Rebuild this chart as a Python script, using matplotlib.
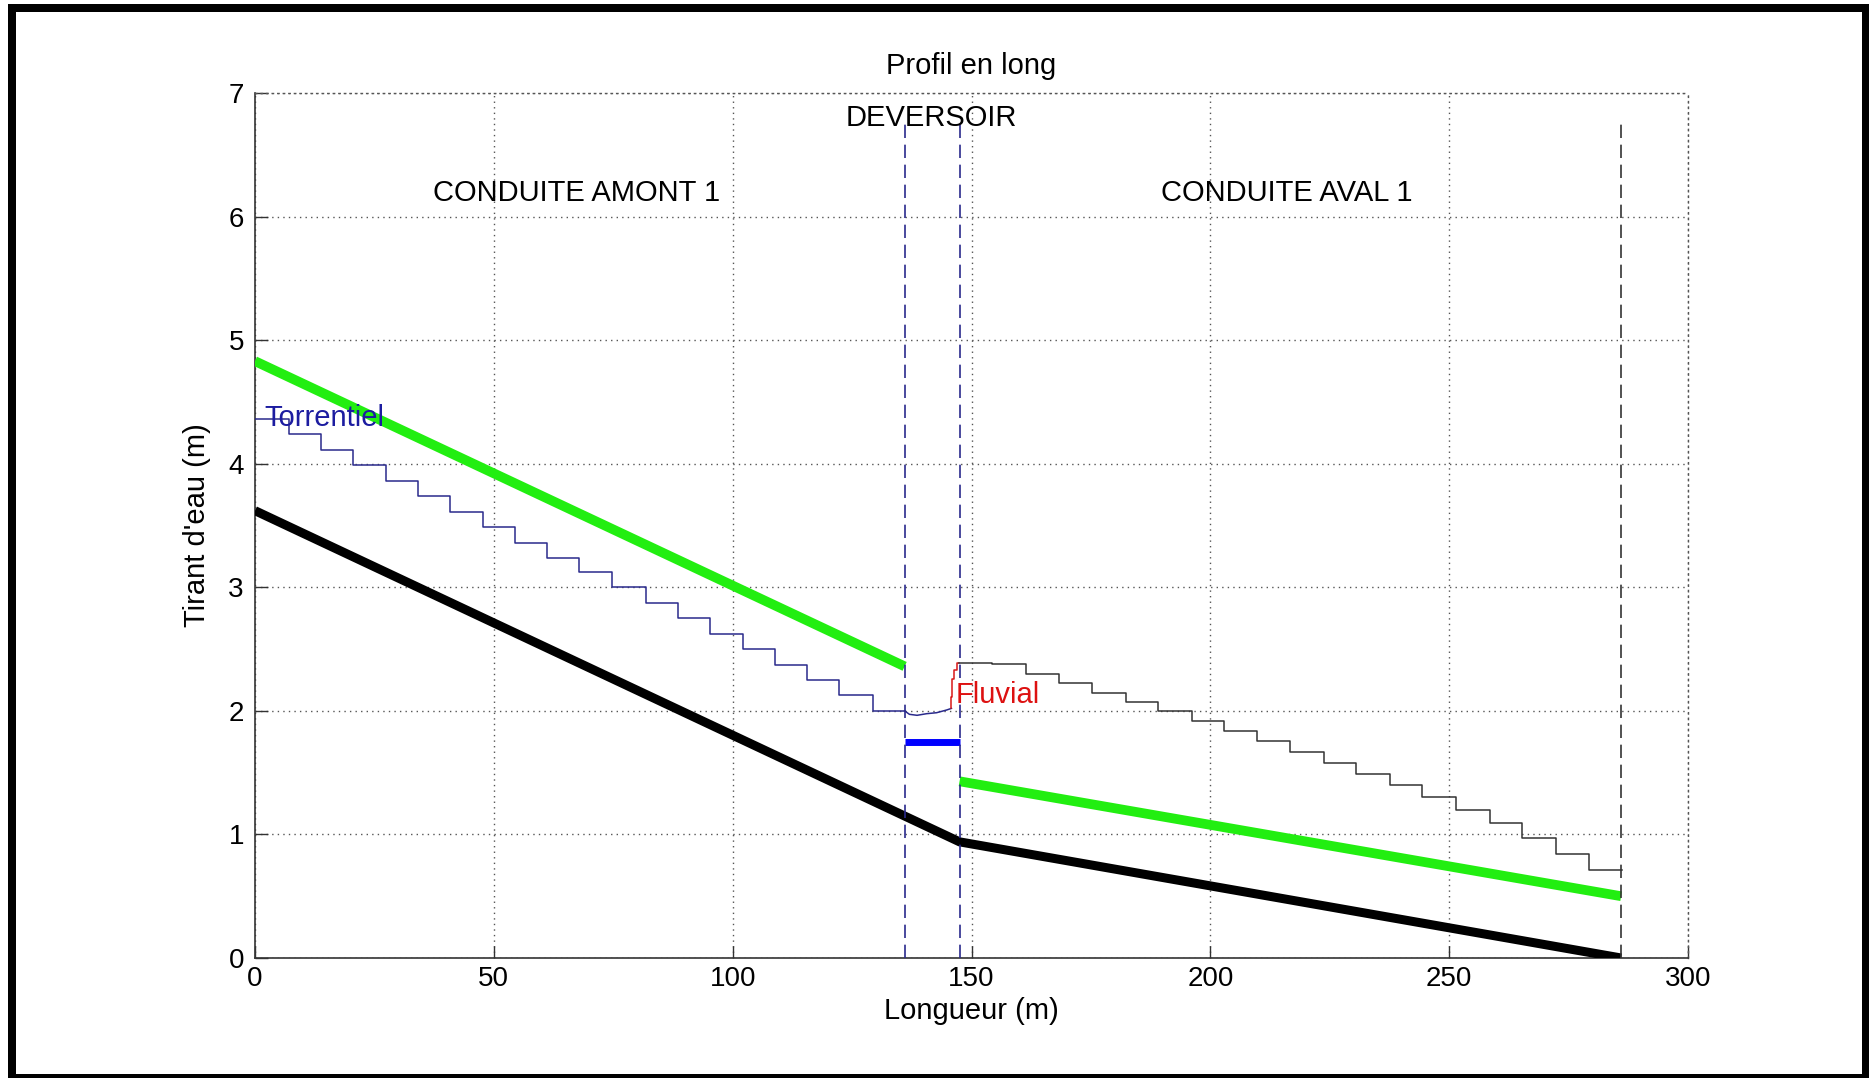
import numpy as np
import matplotlib
matplotlib.use("Agg")
import matplotlib.pyplot as plt
from matplotlib.patches import Rectangle

plt.rcParams['font.family'] = ['Liberation Sans', 'DejaVu Sans']

# Fil d'eau (radier) des deux conduites
radier_x = [0.0, 147.5, 286.0]
radier_y = [3.62, 0.94, 0.0]

# Ligne de charge, conduite amont puis conduite aval
charge_amont_x = [0.0, 136.0]
charge_amont_y = [4.83, 2.36]
charge_aval_x = [147.5, 286.0]
charge_aval_y = [1.43, 0.50]

# Ligne d'eau torrentielle dans la conduite amont (paliers)
torr_bords = [0.0, 7.1, 13.8, 20.6, 27.4, 34.1, 40.9, 47.7, 54.5, 61.2, 67.9,
              74.7, 81.8, 88.5, 95.3, 102.1, 108.9, 115.6, 122.3, 129.3, 136.0]
torr_niveaux = [4.36, 4.24, 4.11, 3.99, 3.86, 3.74, 3.61, 3.49, 3.36, 3.24,
                3.12, 3.00, 2.87, 2.75, 2.62, 2.50, 2.37, 2.25, 2.13, 2.00]

# Ligne d'eau dans le déversoir
dev_x = [136.0, 137.0, 138.6, 140.6, 142.7, 144.8, 145.8]
dev_y = [2.00, 1.972, 1.964, 1.977, 1.985, 2.007, 2.02]

# Ressaut hydraulique en sortie de déversoir
ressaut_x = [145.8, 146.0, 146.4, 147.0, 147.45]
ressaut_y = [2.02, 2.11, 2.26, 2.33, 2.385]

# Ligne d'eau fluviale dans la conduite aval (paliers)
fluv_bords = [147.45, 154.2, 161.4, 168.4, 175.2, 182.3, 189.1, 196.1, 202.8,
              209.8, 216.7, 223.8, 230.5, 237.6, 244.4, 251.4, 258.5, 265.3,
              272.3, 279.2, 286.2]
fluv_niveaux = [2.385, 2.377, 2.298, 2.223, 2.147, 2.069, 1.996, 1.918, 1.837,
                1.754, 1.665, 1.580, 1.491, 1.400, 1.303, 1.198, 1.095, 0.968,
                0.842, 0.712]

# Crête du seuil déversant
seuil_x = [136.0, 147.5]
seuil_y = [1.75, 1.75]

# Limites des tronçons
limites_deversoir = [136.0, 147.5]
limite_fin = 286.0
hauteur_limites = 6.8

x_ticks = [0, 50, 100, 150, 200, 250, 300]
y_ticks = [0, 1, 2, 3, 4, 5, 6, 7]


def paliers(bords, niveaux):
    """Construit une ligne en escalier à partir des bords et des niveaux."""
    xs = np.repeat(np.asarray(bords, dtype=float), 2)[1:-1]
    ys = np.repeat(np.asarray(niveaux, dtype=float), 2)
    return xs, ys


W, H = 1869, 1078
fig = plt.figure(figsize=(W / 100, H / 100), dpi=100, facecolor='white')


# Cadre noir autour de la figure (coordonnées en pixels)
def bande(x0, y0, x1, y1):
    fig.add_artist(Rectangle((x0 / W, 1 - y1 / H), (x1 - x0) / W, (y1 - y0) / H,
                             transform=fig.transFigure, facecolor='black',
                             edgecolor='none', zorder=10))


bande(8, 4, 16, 1078)
bande(8, 4, 1869, 12)
bande(1862, 4, 1869, 1078)
bande(8, 1074, 1869, 1078)

ax = fig.add_axes([255 / W, 1 - 958 / H, (1688 - 255) / W, (958 - 93) / H])
ax.set_xlim(0, 300)
ax.set_ylim(0, 7)

# Quadrillage pointillé
grid_style = dict(linestyle=(0, (1, 3)), linewidth=1.0, color='#555555')
ax.grid(True, **grid_style)
ax.set_axisbelow(True)
for side in ('top', 'right'):
    ax.spines[side].set_linestyle((0, (1, 3)))
    ax.spines[side].set_linewidth(1.0)
    ax.spines[side].set_color('#555555')
for side in ('left', 'bottom'):
    ax.spines[side].set_linewidth(1.2)
    ax.spines[side].set_color('#333333')

ax.set_xticks(x_ticks)
ax.set_yticks(y_ticks)
ax.tick_params(direction='in', length=9, width=1.0, color='#333333',
               labelsize=20, top=False, right=False)
ax.tick_params(axis='x', pad=6)
ax.tick_params(axis='y', pad=8)

# Ligne de charge
ax.plot(charge_amont_x, charge_amont_y, color='#22ee11', lw=7,
        solid_capstyle='butt', zorder=3)
ax.plot(charge_aval_x, charge_aval_y, color='#22ee11', lw=7,
        solid_capstyle='butt', zorder=3)

# Radier
ax.plot(radier_x, radier_y, color='black', lw=6.5, solid_capstyle='butt',
        solid_joinstyle='miter', zorder=3)

# Lignes d'eau
tx, ty = paliers(torr_bords, torr_niveaux)
ax.plot(tx, ty, color='#2a2a8c', lw=1.1, zorder=4)
ax.plot(dev_x, dev_y, color='#2a2a8c', lw=1.1, zorder=4)
ax.plot(ressaut_x, ressaut_y, color='#d81818', lw=1.1,
        drawstyle='steps-pre', zorder=4)
fx, fy = paliers(fluv_bords, fluv_niveaux)
ax.plot(fx, fy, color='#333333', lw=1.1, zorder=4)

# Seuil
ax.plot(seuil_x, seuil_y, color='#0000ff', lw=5, solid_capstyle='butt',
        zorder=4)

# Limites des tronçons
for xl in limites_deversoir:
    ax.plot([xl, xl], [0, hauteur_limites], color='#2a2a8c', lw=1.2,
            linestyle=(0, (8, 4)), zorder=5)
ax.plot([limite_fin, limite_fin], [0, hauteur_limites], color='#333333',
        lw=1.2, linestyle=(0, (8, 4)), zorder=5)

# Annotations
ax.text(141.5, 6.8, 'DEVERSOIR', fontsize=21, ha='center', va='center',
        zorder=6)
ax.text(67.4, 6.19, 'CONDUITE AMONT 1', fontsize=21, ha='center',
        va='center', zorder=6)
ax.text(216.0, 6.19, 'CONDUITE AVAL 1', fontsize=21, ha='center',
        va='center', zorder=6)
ax.text(14.5, 4.37, 'Torrentiel', fontsize=21, color='#1c1ca0', ha='center',
        va='center', zorder=6)
ax.text(155.5, 2.13, 'Fluvial', fontsize=21, color='#dd1111', ha='center',
        va='center', zorder=6)

ax.set_title('Profil en long', fontsize=21, y=1.031, va='center', pad=0)
ax.set_xlabel('Longueur (m)', fontsize=21, va='center')
ax.xaxis.set_label_coords(0.5, -0.0613)
ax.set_ylabel("Tirant d'eau (m)", fontsize=21, va='center')
ax.yaxis.set_label_coords(-0.0405, 0.5)

fig.savefig('out.png', dpi=100, facecolor='white')
